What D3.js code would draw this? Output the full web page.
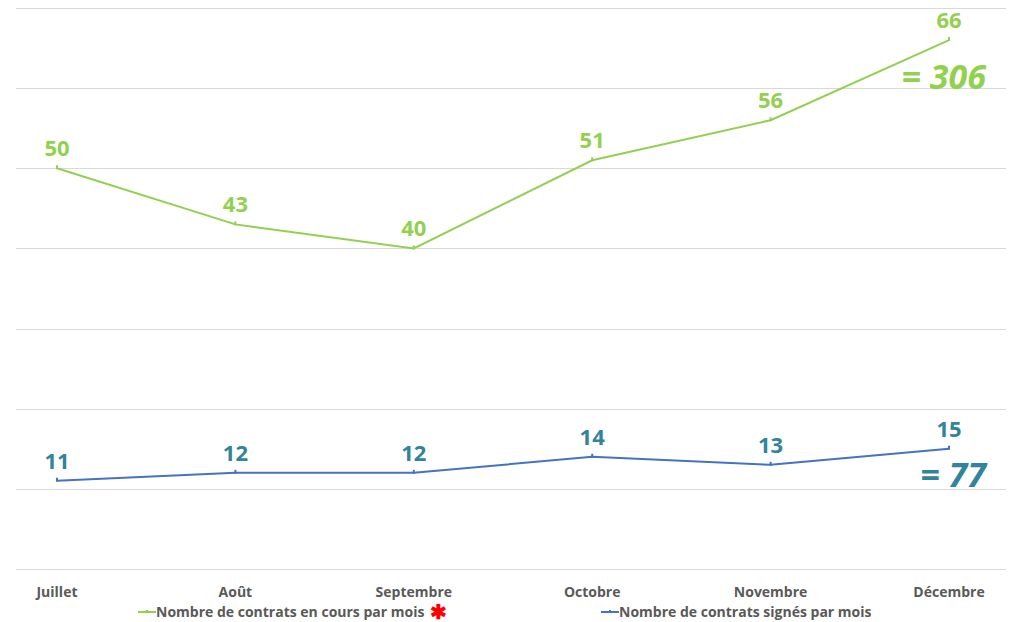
<!DOCTYPE html>
<html lang="fr">
<head>
<meta charset="utf-8">
<title>Contrats par mois</title>
<script src="https://cdn.jsdelivr.net/npm/d3@7"></script>
<style>
  body { margin: 0; background: #fff; }
  text { font-family: "Open Sans", "Noto Sans", sans-serif; }
</style>
</head>
<body>
<script>
// data
var months = ["Juillet", "Août", "Septembre", "Octobre", "Novembre", "Décembre"];
var enCours = [50, 43, 40, 51, 56, 66];
var signes = [11, 12, 12, 14, 13, 15];
var yTicks = [0, 10, 20, 30, 40, 50, 60, 70];
var totalEnCours = "= 306";
var totalSignes = "= 77";

var w = 1013, h = 622;
var svg = d3.select("body").append("svg").attr("width", w).attr("height", h);

var x = d3.scalePoint().domain(months).range([57, 949]);
var y = d3.scaleLinear().domain([0, 70]).range([569, 8]);

// gridlines
svg.selectAll("line.grid")
  .data(yTicks)
  .enter().append("line")
  .attr("class", "grid")
  .attr("x1", 16).attr("x2", 1006)
  .attr("y1", function(d) { return Math.round(y(d)) + 0.5; })
  .attr("y2", function(d) { return Math.round(y(d)) + 0.5; })
  .attr("stroke", "#d9d9d9").attr("stroke-width", 1);

// x axis labels
svg.selectAll("text.xlab")
  .data(months)
  .enter().append("text")
  .attr("x", function(d) { return x(d); })
  .attr("y", 597)
  .attr("text-anchor", "middle")
  .attr("font-size", 14).attr("font-weight", "bold")
  .attr("fill", "#595959")
  .text(function(d) { return d; });

var line = d3.line()
  .x(function(d, i) { return x(months[i]); })
  .y(function(d) { return y(d); });

function drawSeries(vals, lineColor, labelColor) {
  svg.append("path")
    .datum(vals)
    .attr("d", line)
    .attr("fill", "none")
    .attr("stroke", lineColor)
    .attr("stroke-width", 2);
  // small dash markers
  svg.selectAll(null)
    .data(vals)
    .enter().append("line")
    .attr("x1", function(d, i) { return x(months[i]); })
    .attr("x2", function(d, i) { return x(months[i]); })
    .attr("y1", function(d) { return y(d) - 3; })
    .attr("y2", function(d) { return y(d) + 1; })
    .attr("stroke", lineColor).attr("stroke-width", 2);
  svg.selectAll(null)
    .data(vals)
    .enter().append("text")
    .attr("x", function(d, i) { return x(months[i]); })
    .attr("y", function(d) { return y(d) - 12; })
    .attr("text-anchor", "middle")
    .attr("font-size", 22).attr("font-weight", "bold")
    .attr("fill", labelColor)
    .text(function(d) { return d; });
}

drawSeries(enCours, "#92d050", "#92d050");
drawSeries(signes, "#4472c4", "#31849b");

// totals
svg.append("text")
  .attr("x", 986).attr("y", y(enCours[5]) + 49)
  .attr("text-anchor", "end")
  .attr("font-size", 34).attr("font-weight", "bold").attr("font-style", "italic")
  .attr("fill", "#92d050")
  .text(totalEnCours);
svg.append("text")
  .attr("x", 986).attr("y", y(signes[5]) + 38)
  .attr("text-anchor", "end")
  .attr("font-size", 34).attr("font-weight", "bold").attr("font-style", "italic")
  .attr("fill", "#31849b")
  .text(totalSignes);

// legend
var legend = [
  { name: "Nombre de contrats en cours par mois", color: "#92d050", x: 138, star: true },
  { name: "Nombre de contrats signés par mois", color: "#4472c4", x: 601, star: false }
];
var lg = svg.selectAll("g.legend")
  .data(legend)
  .enter().append("g")
  .attr("transform", function(d) { return "translate(" + d.x + ",612)"; });
lg.append("line")
  .attr("x1", 0).attr("x2", 18).attr("y1", 0).attr("y2", 0)
  .attr("stroke", function(d) { return d.color; }).attr("stroke-width", 2);
lg.append("line")
  .attr("x1", 9).attr("x2", 9).attr("y1", -2).attr("y2", 0)
  .attr("stroke", function(d) { return d.color; }).attr("stroke-width", 2);
lg.append("text")
  .attr("x", 18).attr("y", 5)
  .attr("font-size", 14).attr("font-weight", "bold")
  .attr("fill", "#595959")
  .text(function(d) { return d.name; });
lg.filter(function(d) { return d.star; })
  .append("text")
  .attr("x", 292).attr("y", 7)
  .attr("font-size", 20).attr("font-weight", "bold")
  .attr("fill", "#ff0000")
  .text("\u2731");
</script>
</body>
</html>
